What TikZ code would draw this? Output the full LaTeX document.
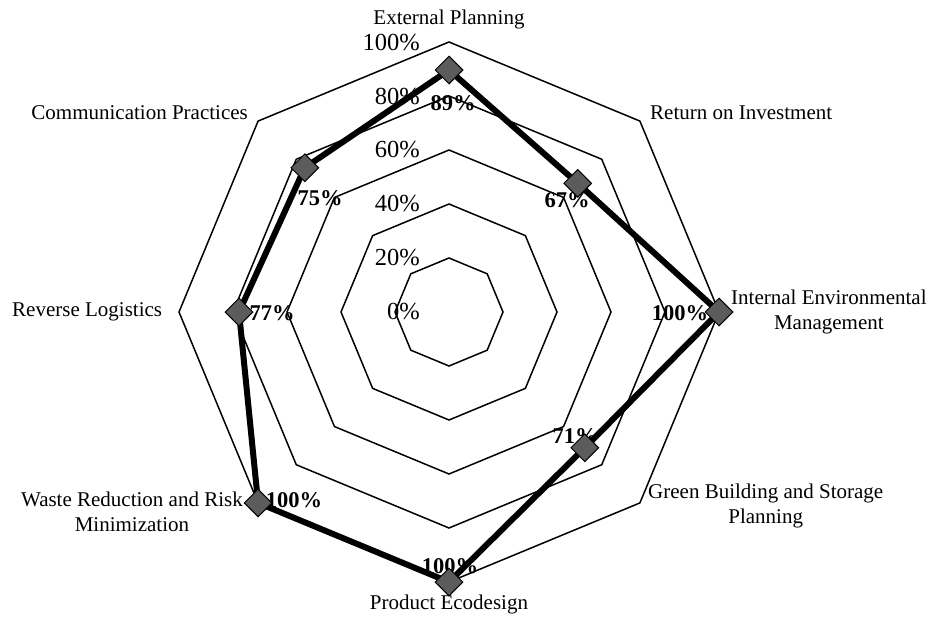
\documentclass[tikz,border=0pt]{standalone}
\usepackage{fontspec}
\setmainfont{Liberation Serif}
\usetikzlibrary{shapes.geometric}
\definecolor{markergray}{RGB}{92,92,92}
\begin{document}
\begin{tikzpicture}[x=1pt,y=-1pt,
  gridline/.style={draw=black,line width=1.5pt,line join=miter},
  series/.style={draw=black,line width=6pt,line join=round},
  marker/.style={diamond,aspect=1,draw=black,line width=1pt,fill=markergray,minimum width=28pt,minimum height=28pt,inner sep=0pt},
  axislabel/.style={inner sep=0pt,font=\fontsize{21}{25}\selectfont,align=center},
  gridlabel/.style={inner sep=0pt,anchor=east,font=\fontsize{24.5}{28}\selectfont},
  datalabel/.style={inner sep=0pt,font=\fontsize{22.5}{26}\selectfont\bfseries}]
\useasboundingbox (0,0) rectangle (932,621);
\coordinate (C) at (449,312);
\begin{scope}[shift={(449,312)}]
  \foreach \r in {54,108,162,216,270}
    \draw[gridline] (-90:\r) -- (-45:\r) -- (0:\r) -- (45:\r) -- (90:\r) -- (135:\r) -- (180:\r) -- (225:\r) -- cycle;
  \coordinate (v1) at (-90:242);
  \coordinate (v2) at (-45:182);
  \coordinate (v3) at (0:270);
  \coordinate (v4) at (45:192);
  \coordinate (v5) at (90:270);
  \coordinate (v6) at (135:270);
  \coordinate (v7) at (180:210);
  \coordinate (v8) at (225:204);
\end{scope}
% grid labels
\node[gridlabel] (g0) at (420,312) {0\%};
\node[gridlabel] (g20) at (420,258) {20\%};
\node[gridlabel] (g40) at (420,204) {40\%};
\node[gridlabel] (g60) at (420,150) {60\%};
\node[gridlabel] (g80) at (420,97) {80\%};
\node[gridlabel] (g100) at (420,43) {100\%};
% axis labels
\node[axislabel] (aEP) at (449,19) {External Planning};
\node[axislabel,anchor=west] (aROI) at (650,113) {Return on Investment};
\node[axislabel,anchor=west] (aIEM) at (731,312) {Internal Environmental\\Management};
\node[axislabel,anchor=west] (aGB) at (648,506) {Green Building and Storage\\Planning};
\node[axislabel] (aPE) at (449,604) {Product Ecodesign};
\node[axislabel,anchor=east] (aWR) at (243,512) {Waste Reduction and Risk\\Minimization};
\node[axislabel,anchor=west] (aRL) at (12,312) {Reverse Logistics};
\node[axislabel,anchor=east] (aCP) at (248,113) {Communication Practices};
% series
\draw[series] (v1) -- (v2) -- (v3) -- (v4) -- (v5) -- (v6) -- (v7) -- (v8) -- cycle;
% data labels
\node[datalabel] (d1) at (453,103) {89\%};
\node[datalabel] (d2) at (567,200) {67\%};
\node[datalabel] (d3) at (680,313) {100\%};
\node[datalabel] (d4) at (575,436) {71\%};
\node[datalabel] (d5) at (450,566) {100\%};
\node[datalabel] (d6) at (294,500) {100\%};
\node[datalabel] (d7) at (272,313) {77\%};
\node[datalabel] (d8) at (320,198) {75\%};
% markers
\foreach \i in {1,...,8}
  \node[marker] (m\i) at (v\i) {};
\end{tikzpicture}
\end{document}
